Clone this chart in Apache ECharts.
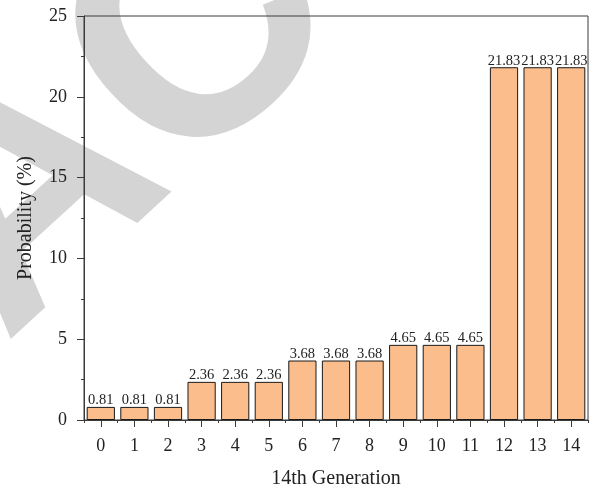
<!DOCTYPE html>
<html>
<head>
<meta charset="utf-8">
<script src="https://cdn.jsdelivr.net/npm/echarts@6/dist/echarts.min.js"></script>
<style>html,body{margin:0;padding:0;background:#fff;}#c{width:597px;height:494px;}</style>
</head>
<body>
<div id="c"></div>
<script>
var categories = ['0','1','2','3','4','5','6','7','8','9','10','11','12','13','14'];
var probability = [0.81,0.81,0.81,2.36,2.36,2.36,3.68,3.68,3.68,4.65,4.65,4.65,21.83,21.83,21.83];
var yTicks = [0,5,10,15,20,25];
var xName = '14th Generation';
var yName = 'Probability (%)';
var watermark = 'RETRACTED';

var serif = '"Liberation Serif", "Times New Roman", serif';
var axisColor = '#3a3a3a';
var textColor = '#222';

var chart = echarts.init(document.getElementById('c'), null, {renderer: 'canvas'});
chart.setOption({
  animation: false,
  backgroundColor: '#fff',
  graphic: [{
    type: 'text',
    z: -10,
    x: -708, y: 876,
    rotation: 42.5 * Math.PI / 180,
    style: {
      text: watermark,
      font: 'bold 325px "Liberation Sans", Arial, sans-serif',
      fill: '#d4d4d4',
      textAlign: 'left',
      textVerticalAlign: 'middle'
    }
  }],
  grid: {
    left: 84, right: 9, top: 16, bottom: 71,
    show: true, borderColor: axisColor, borderWidth: 1, backgroundColor: 'transparent'
  },
  xAxis: [{
    type: 'category',
    data: categories,
    position: 'bottom',
    name: xName,
    nameLocation: 'middle',
    nameGap: 49,
    nameTextStyle: {fontFamily: serif, fontSize: 20, color: textColor},
    axisLine: {show: true, lineStyle: {color: axisColor, width: 1}},
    axisTick: {show: true, alignWithLabel: true, length: 7, lineStyle: {color: axisColor}},
    axisLabel: {fontFamily: serif, fontSize: 18, color: textColor, margin: 17, interval: 0},
    splitLine: {show: false}
  }, {
    type: 'category',
    data: categories,
    position: 'bottom',
    axisLine: {show: false},
    axisTick: {show: true, alignWithLabel: false, length: 3, interval: 0, lineStyle: {color: axisColor}},
    axisLabel: {show: false},
    splitLine: {show: false}
  }],
  yAxis: {
    type: 'value',
    min: yTicks[0],
    max: yTicks[yTicks.length - 1],
    interval: yTicks[1] - yTicks[0],
    name: yName,
    nameLocation: 'middle',
    nameGap: 48,
    nameTextStyle: {fontFamily: serif, fontSize: 20, color: textColor},
    axisLine: {show: true, lineStyle: {color: axisColor, width: 1}},
    axisTick: {show: true, length: 7, lineStyle: {color: axisColor}},
    minorTick: {show: true, splitNumber: 2, length: 3, lineStyle: {color: axisColor}},
    axisLabel: {fontFamily: serif, fontSize: 18, color: textColor, margin: 17},
    splitLine: {show: false}
  },
  series: [{
    type: 'bar',
    xAxisIndex: 0,
    data: probability,
    barWidth: '84%',
    itemStyle: {color: '#fbbd8c', borderColor: '#1a1a1a', borderWidth: 1},
    label: {show: true, position: 'top', distance: -1, fontFamily: serif, fontSize: 14.5, color: textColor,
      formatter: function (p) { return p.value.toFixed(2); }}
  }]
});
</script>
</body>
</html>
